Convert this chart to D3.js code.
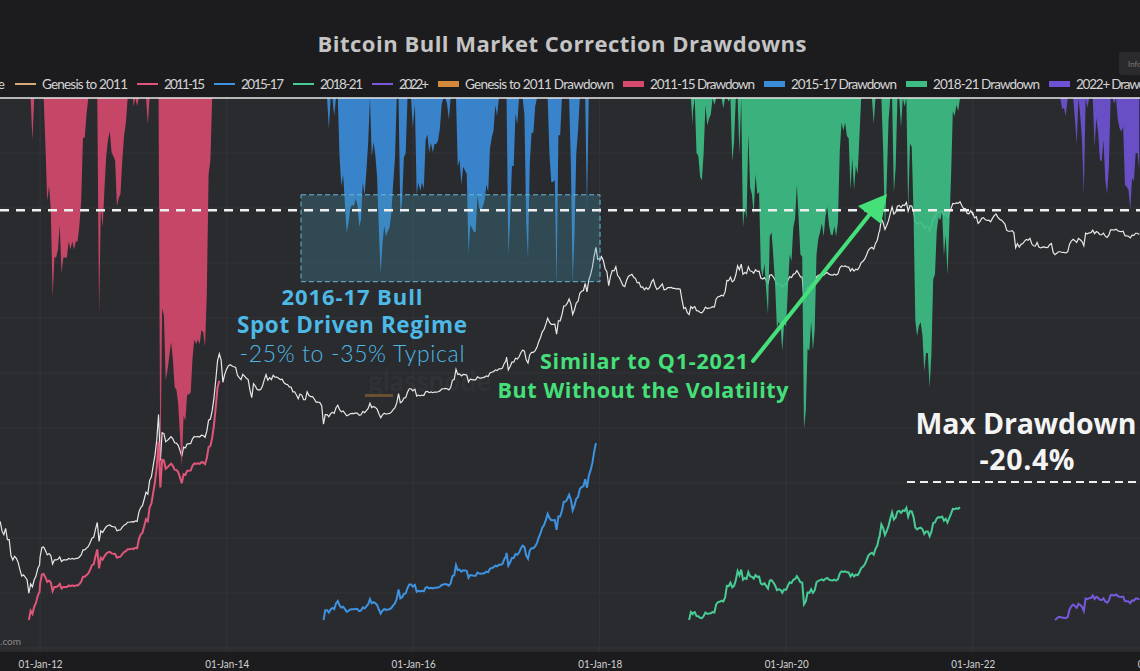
<!DOCTYPE html>
<html><head><meta charset="utf-8">
<script src="https://cdn.jsdelivr.net/npm/d3@7"></script>
<style>
html,body{margin:0;padding:0;background:#1c1c1e;overflow:hidden}
svg{display:block;font-family:Lato,"Open Sans",sans-serif}
</style></head><body>
<svg id="chart" width="1140" height="671"></svg>
<script>
// ---------------- DATA ----------------
const xDomain = ["2011-07-28", "2023-10-18"];
const tickDates = ["2012-01-01","2014-01-01","2016-01-01","2018-01-01","2020-01-01","2022-01-01","2024-01-01"];

// weekly BTC price samples (USD), each list starts at the date paired with it below
const prices2011 = [15.4,14.5,13.8,13.7,13.4,10.5,9.6,11.3,8.4,8.4,5.5,4.9,5.4,5.1,4.6,3.8,3.2,3.3,3.1,2.9,2.04,2.6,2.4,2.9,3.2,3.9,4.3];
const prices2012 = [5.3,6.8,6.9,6.3,5.6,5.8,5.5,4.4,4.9,4.9,5.0,5.3,4.7,4.9,4.9,4.9,5.1,5.0,5.1,5.0,5.1,5.1,5.3,5.6,6.4,6.4,6.7,7.0,7.7,8.7,8.9,11.0,13.2,8.0,10.6,10.1,11.0,11.8,12.2,12.4,11.9,11.8,11.7,10.6,10.8,10.9,11.7,12.3,12.6,13.3,13.3,13.4,13.5];
const prices2013 = [13.3,13.8,13.6,17.4,19.6,20.6,24.6,29.4,28.0,40.3,44.2,59.0,78.5,117,230,68,142,139,112,116,122,128,121,109,108,102,89,76,97,95,106,106,107,121,129,127,129,127,133,132,126,148,198,204,253,355,570,955,1150,980,540,665,760];
const prices2014 = [770,840,860,830,815,800,650,610,580,665,635,600,580,440,360,520,490,447,440,447,490,575,660,570,610,580,650,620,620,600,580,585,535,515,510,477,475,420,420,385,350,395,385,340,340,420,380,370,370,347,320,320,315];
const prices2015 = [315,290,178,230,230,217,235,245,237,275,294,262,247,253,237,222,227,235,237,236,240,237,225,229,249,242,255,270,310,277,285,278,265,235,211,228,238,232,235,237,245,262,276,313,400,315,325,357,360,415,455,455,430];
const prices2016 = [434,450,375,385,378,385,380,420,425,410,418,410,417,417,420,430,450,455,460,455,442,470,570,580,760,665,675,640,665,660,655,545,585,580,575,575,625,608,604,610,618,640,630,690,705,715,750,735,770,770,785,890,960];
const prices2017 = [1050,750,820,920,920,1020,1000,1060,1180,1270,1230,980,900,1120,1190,1190,1250,1360,1580,1770,2050,2200,2520,2950,2650,2500,2500,2510,1930,2750,2750,3230,4060,4090,4380,4900,4300,3250,3680,4400,4610,5700,6000,6130,7400,5900,8040,9330,11300,15200,19200,14000,14200];
const prices2018 = [13600,15000,13600,10900,10100,6950,8900,10400,10300,11500,9100,8600,7800,7000,6800,8000,8900,9200,9400,8700,8400,7500,7600,6700,6750,6250,6600,6300,6700,7700,8200,6950,6300,6500,6900,7300,6250,6300,6600,6600,6650,6500,6500,6350,6450,6350,4800,3800,3900,3400,3240,4000,3800];
const prices2019 = [3900,4000,3600,3580,3430,3400,3600,3950,3800,3850,3880,4000,3950,4900,5200,5250,5400,5300,5900,8000,7950,8700,7700,8000,9300,11800,10600,12300,9400,9850,9600,11500,10300,10150,9700,10600,10150,10200,8500,8300,8600,8000,7450,9200,9300,8750,8100,7150,7300,7200,6650,7250,7200];
const prices2020 = [7200,8050,8800,8650,9400,9600,10350,9600,8800,8750,4900,5300,6700,6650,7300,6650,7130,8800,9150,9300,9500,9200,9650,9870,9450,9250,9230,9430,9200,9530,11100,11750,11570,11750,11450,11400,10240,10950,10250,10780,10600,11430,12820,13270,14150,15700,17800,18700,19200,18300,21300,23200,28900];
const prices2021 = [29400,40600,36800,30800,34300,38900,47200,55900,46300,48800,57200,58200,55100,59000,58100,63000,50100,57800,57400,49700,37500,35700,36900,37300,35800,31700,33800,33800,29800,33600,42200,42800,47800,49300,49000,50000,44900,47300,42700,48200,54000,61500,60900,62200,61500,64100,58100,53600,53600,47100,46700,50800,46300];
const prices2022 = [47700,41800,43100,36300,37900,41400,42200,40000,39100,39400,37800,41300,44500,46400,42800,40400,39500,37700,35500,30100,29400,29400,29900,28400,19000,21200,19300,20800,21200,22600,23700,23200,24400,21100,20000,19800,21800,19400,18900,19300,19400,19100,19200,20600,21300,16800,15800,16450,17100,17100,16750,16800,16550];
const prices2023 = [16600,17100,20900,22700,23800,22900,21800,24300,23500,22400,20000,28000,27500,28200,28300,30300,27600,29200,28400,26900,26800,28000,25800,25000,26500,30500,30600,30300,31000,29800,29300,29100,29400,26100,26000,25800,24700,26500,26300,27900,27900,27000];
const blockStarts = ["2011-07-01","2012-01-01","2013-01-01","2014-01-01","2015-01-01","2016-01-01","2017-01-01","2018-01-01","2019-01-01","2020-01-01","2021-01-01","2022-01-01","2023-01-01"];

// bull-market cycles
const cycleNames = ["2011-15","2015-17","2018-21","2022+"];
const cycleStart = ["2011-11-18","2015-01-15","2018-12-17","2022-11-19"];
const cycleEnd   = ["2013-12-03","2017-12-17","2021-11-12","2023-10-18"];

const legendLabels = ["Price","Genesis to 2011","2011-15","2015-17","2018-21","2022+",
  "Genesis to 2011 Drawdown","2011-15 Drawdown","2015-17 Drawdown","2018-21 Drawdown","2022+ Drawdown"];

const maxDrawdownLevel = -0.204;
const regimeDates = ["2014-10-19","2018-01-02"];
const regimeDD = [-0.176,-0.334];

(function(){
// ---------------- STYLES ----------------
const lineColors = ["#e0567a","#3d93e0","#47cc95","#7659dc"];
const fillColors = ["#d4496c","#3a8bd8","#3dbd84","#6e52d4"];
const legendSym = ["#e8e8e8","#dba878","#e0567a","#3d93e0","#47cc95","#7659dc","#d2893c","#d4496c","#3a8bd8","#3dbd84","#6e52d4"];
const legendWidths = [30,86,41,43,43,30,149,105,106,107,92];

// ---------------- BUILD ----------------
const W = 1140, H = 671, plotTop = 98, plotBottom = 652;
const parse = d3.utcParse("%Y-%m-%d");
const svg = d3.select("#chart");
const fit = (sel,w)=>sel.attr("textLength",w).attr("lengthAdjust","spacing");

svg.append("rect").attr("width",W).attr("height",H).attr("fill","#1c1c1e");
svg.append("rect").attr("x",0).attr("y",plotTop).attr("width",W).attr("height",plotBottom-plotTop).attr("fill","#2a2b2e");

const x = d3.scaleUtc().domain(xDomain.map(parse)).range([0,W]);
const yDD = d3.scaleLinear().domain([0,-1]).range([98,648]);
const yP = d3.scaleLog().domain([1,100000]).range([620,185]);

const blocks = [prices2011,prices2012,prices2013,prices2014,prices2015,prices2016,prices2017,prices2018,prices2019,prices2020,prices2021,prices2022,prices2023];
const price = [];
blocks.forEach((arr,bi)=>{
  const d0 = parse(blockStarts[bi]);
  arr.forEach((v,i)=>price.push({date:d3.utcDay.offset(d0,7*i), value:v}));
});

const cycles = cycleStart.map((s,ci)=>{
  const a = parse(s), b = parse(cycleEnd[ci]);
  const pts = price.filter(p=>p.date>=a && p.date<=b);
  const base = pts[0].value; let mx = -Infinity;
  return pts.map(p=>{ mx = Math.max(mx,p.value); return {date:p.date, dd:p.value/mx-1, mult:p.value/base}; });
});

svg.append("defs").append("clipPath").attr("id","clip")
  .append("rect").attr("x",0).attr("y",plotTop).attr("width",W).attr("height",plotBottom-plotTop);
const g = svg.append("g").attr("clip-path","url(#clip)");

// gridlines
g.selectAll(".hg").data(yDD.ticks(10).filter(t=>t<0)).enter().append("line")
  .attr("x1",0).attr("x2",W).attr("y1",d=>yDD(d)).attr("y2",d=>yDD(d))
  .attr("stroke","#333438").attr("stroke-width",1);
g.selectAll(".vg").data(tickDates.map(parse)).enter().append("line")
  .attr("x1",d=>x(d)).attr("x2",d=>x(d)).attr("y1",plotTop).attr("y2",plotBottom)
  .attr("stroke","#34353a").attr("stroke-width",1);

// watermark
g.append("text").attr("x",368).attr("y",391).text("glassnode")
  .attr("font-size",28).attr("font-weight",700).attr("fill","rgba(255,255,255,0.045)");
g.append("rect").attr("x",365).attr("y",394).attr("width",28).attr("height",3).attr("fill","#6a5032");

// price line
g.append("path").datum(price)
  .attr("d", d3.line().x(d=>x(d.date)).y(d=>yP(d.value)))
  .attr("fill","none").attr("stroke","#e8e8e8").attr("stroke-width",1.2);

// cycle multiple lines
cycles.forEach((c,ci)=>{
  g.append("path").datum(c)
   .attr("d", d3.line().x(d=>x(d.date)).y(d=>yP(d.mult)))
   .attr("fill","none").attr("stroke",lineColors[ci]).attr("stroke-width",2);
});

// drawdown fills
cycles.forEach((c,ci)=>{
  g.append("path").datum(c)
   .attr("d", d3.area().x(d=>x(d.date)).y0(yDD(0)).y1(d=>yDD(d.dd)))
   .attr("fill",fillColors[ci]).attr("fill-opacity",0.92);
});

// top 0% line
svg.append("line").attr("x1",0).attr("x2",W).attr("y1",yDD(0)).attr("y2",yDD(0))
  .attr("stroke","#e8e8e8").attr("stroke-width",1.6);

// regime box
const bx0 = x(parse(regimeDates[0])), bx1 = x(parse(regimeDates[1]));
svg.append("rect").attr("x",bx0).attr("y",yDD(regimeDD[0]))
  .attr("width",bx1-bx0).attr("height",yDD(regimeDD[1])-yDD(regimeDD[0]))
  .attr("fill","rgba(70,150,180,0.28)").attr("stroke","#6cb8d6").attr("stroke-width",1)
  .attr("stroke-dasharray","5,3");

// max drawdown dashed line
svg.append("line").attr("x1",0).attr("x2",W).attr("y1",yDD(maxDrawdownLevel)).attr("y2",yDD(maxDrawdownLevel))
  .attr("stroke","#f0f0f0").attr("stroke-width",2.5).attr("stroke-dasharray","9,7");

// annotations
const OS = "'Open Sans',Lato,sans-serif";
const blue = "#4cb9e6";
fit(svg.append("text").attr("x",352).attr("y",305).attr("text-anchor","middle").attr("font-family",OS).attr("font-size",22).attr("font-weight",700).attr("fill",blue).text("2016-17 Bull"),141);
fit(svg.append("text").attr("x",352).attr("y",333).attr("text-anchor","middle").attr("font-family",OS).attr("font-size",22.5).attr("font-weight",700).attr("fill",blue).text("Spot Driven Regime"),230);
fit(svg.append("text").attr("x",352).attr("y",362).attr("text-anchor","middle").attr("font-size",23).attr("font-weight",300).attr("fill",blue).text("-25% to -35% Typical"),225);

const green = "#45e07a";
fit(svg.append("text").attr("x",644).attr("y",369).attr("text-anchor","middle").attr("font-family",OS).attr("font-size",21.5).attr("font-weight",700).attr("fill",green).text("Similar to Q1-2021"),208);
fit(svg.append("text").attr("x",643).attr("y",398).attr("text-anchor","middle").attr("font-family",OS).attr("font-size",21.5).attr("font-weight",700).attr("fill",green).text("But Without the Volatility"),291);
svg.append("line").attr("x1",753).attr("y1",361).attr("x2",870).attr("y2",214)
  .attr("stroke",green).attr("stroke-width",4).attr("stroke-linecap","round");
svg.append("path").attr("d","M887,194 L881,224 L858,206 Z").attr("fill",green);

fit(svg.append("text").attr("x",1026).attr("y",434).attr("text-anchor","middle").attr("font-family",OS).attr("font-size",28.5).attr("font-weight",700).attr("fill","#f4f4f4").text("Max Drawdown"),221);
fit(svg.append("text").attr("x",1027).attr("y",470).attr("text-anchor","middle").attr("font-family",OS).attr("font-size",28.5).attr("font-weight",700).attr("fill","#f4f4f4").text("-20.4%"),95);
svg.append("line").attr("x1",907).attr("x2",W).attr("y1",482).attr("y2",482)
  .attr("stroke","#f0f0f0").attr("stroke-width",2).attr("stroke-dasharray","8,5");

svg.append("text").attr("x",21).attr("y",645).attr("text-anchor","end").attr("font-size",10).attr("fill","#8a8a8a").text("glassnode.com");

// x axis band
svg.append("rect").attr("x",0).attr("y",plotBottom).attr("width",W).attr("height",H-plotBottom).attr("fill","#1c1c1e");
const ax = svg.append("g").attr("transform",`translate(0,${plotBottom})`)
  .call(d3.axisBottom(x).tickValues(tickDates.map(parse)).tickFormat(d3.utcFormat("%d-%b-%y")).tickSize(0).tickPadding(7));
ax.select(".domain").remove();
ax.selectAll("text").attr("fill","#d2d2d2").attr("font-size",12).attr("font-family","Lato,sans-serif")
  .attr("textLength",44).attr("lengthAdjust","spacingAndGlyphs");

// title
fit(svg.append("text").attr("x",562).attr("y",52).attr("text-anchor","middle").attr("font-family",OS)
  .attr("font-size",22).attr("font-weight",700).attr("fill","#c4c4c4").text("Bitcoin Bull Market Correction Drawdowns"),489);

// info button
svg.append("rect").attr("x",1119).attr("y",52).attr("width",30).attr("height",23).attr("rx",3).attr("fill","#2b2b2e");
svg.append("text").attr("x",1128).attr("y",67).attr("font-size",8).attr("fill","#777").text("Info");

// legend
const lg = svg.append("g");
function drawSym(i, textX){
  if(i<=5){
    lg.append("rect").attr("x",textX-27).attr("y",83).attr("width",21).attr("height",2).attr("fill",legendSym[i]);
  } else {
    lg.append("rect").attr("x",textX-27).attr("y",81).attr("width",21).attr("height",6).attr("fill",legendSym[i]);
  }
}
let cursor = 42;
legendLabels.forEach((lab,i)=>{
  const t = lg.append("text").attr("y",89).attr("font-size",13.5).attr("fill","#d4d4d4").text(lab);
  fit(t, legendWidths[i]);
  if(i===0){ t.attr("x",5-legendWidths[i]); drawSym(i,5-legendWidths[i]); }
  else { t.attr("x",cursor); drawSym(i,cursor); cursor += legendWidths[i] + 36; }
});
})();
</script>
</body></html>
